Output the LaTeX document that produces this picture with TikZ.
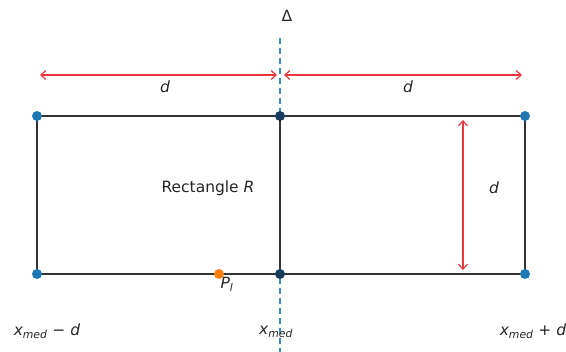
\documentclass[tikz,border=0pt]{standalone}
\usepackage{fontspec}
\setmainfont{DejaVu Sans}
\usetikzlibrary{arrows.meta}
\definecolor{mblue}{HTML}{1F77B4}
\definecolor{dblue}{HTML}{163A5A}
\definecolor{morange}{HTML}{FF7F0E}
\definecolor{edge}{HTML}{333333}
\definecolor{dline}{HTML}{3A8CC0}
\definecolor{mred}{HTML}{E8383D}
\tikzset{
  rectline/.style={draw=edge, line width=2.4pt},
  axisline/.style={draw=dline, line width=1.6pt, dash pattern=on 6pt off 4pt},
  dimarrow/.style={draw=mred, line width=1.2pt, {Straight Barb[length=5pt,width=9pt]}-{Straight Barb[length=5pt,width=9pt]}},
  lbl/.style={font=\fontsize{15.5}{18}\selectfont, inner sep=0pt, text=black!85},
  corner/.style={circle, fill=mblue, inner sep=0pt, minimum size=10pt},
  mcorner/.style={circle, fill=dblue, inner sep=0pt, minimum size=10pt},
  pt/.style={circle, fill=morange, inner sep=0pt, minimum size=10pt}
}
\begin{document}
\begin{tikzpicture}[x=1pt,y=-1pt]
\useasboundingbox (0,0) rectangle (566,352);
% corners
\coordinate (TL) at (37,116);
\coordinate (TM) at (280,116);
\coordinate (TR) at (525,116);
\coordinate (BL) at (37,274);
\coordinate (BM) at (280,274);
\coordinate (BR) at (525,274);
\coordinate (Atop) at (280,38);
\coordinate (Abot) at (280,352);
% axis
\draw[axisline] (Atop) -- (Abot);
% rectangle
\draw[rectline] (TL) -- (TR) -- (BR) -- (BL) -- cycle;
\draw[rectline] (TM) -- (BM);
% dots
\node[corner] (cTL) at (TL) {};
\node[corner] (cBL) at (BL) {};
\node[corner] (cTR) at (TR) {};
\node[corner] (cBR) at (BR) {};
\node[mcorner] (cTM) at (TM) {};
\node[mcorner] (cBM) at (BM) {};
\node[pt] (pl) at (219,274) {};
% dimension arrows
\coordinate (a1) at (40,75);
\coordinate (a2) at (277,75);
\coordinate (a3) at (284,75);
\coordinate (a4) at (522,75);
\coordinate (v1) at (463,120);
\coordinate (v2) at (463,270);
\draw[dimarrow] (a1) -- (a2);
\draw[dimarrow] (a3) -- (a4);
\draw[dimarrow] (v1) -- (v2);
% labels
\node[lbl] (delta) at (287,16) {Δ};
\node[lbl] (d1) at (165,87) {\itshape d};
\node[lbl] (d2) at (408,87) {\itshape d};
\node[lbl] (d3) at (494,188) {\itshape d};
\node[lbl] (rect) at (208,188) {Rectangle \itshape R};
\node[lbl] (pll) at (227,284) {\itshape P\textsubscript{l}};
\node[lbl] (xl) at (47,331) {\itshape x\textsubscript{med} \upshape − \itshape d};
\node[lbl] (xm) at (276,332) {\itshape x\textsubscript{med}};
\node[lbl] (xr) at (533,331) {\itshape x\textsubscript{med} \upshape + \itshape d};
\end{tikzpicture}
\end{document}
